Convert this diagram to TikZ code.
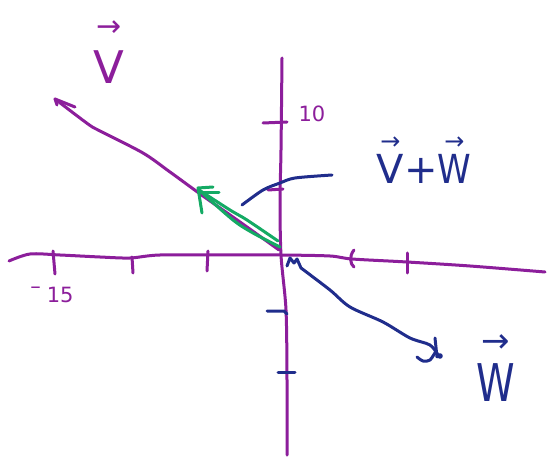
\documentclass[tikz,border=0pt]{standalone}
\usepackage{fontspec}
\setmainfont{DejaVu Sans}
\definecolor{pur}{RGB}{140,30,155}
\definecolor{nav}{RGB}{32,45,140}
\definecolor{grn}{RGB}{20,170,100}
\begin{document}
\begin{tikzpicture}[x=1pt,y=-1pt,
  pen/.style={line width=3pt,line cap=round,line join=round},
  pp/.style={pen,pur},
  bp/.style={pen,nav},
  gp/.style={pen,grn},
  lbl/.style={inner sep=0pt,align=center}]
\useasboundingbox[fill=white] (0,0) rectangle (549,457);
\coordinate (O) at (281,255);
% axes
\draw[pp] plot[smooth,tension=0.5] coordinates {(9,261) (30,254) (60,255) (100,257) (130,258) (160,255) (230,255) (O) (330,256) (352,259) (407,262) (470,266) (545,272)};
\draw[pp] plot[smooth] coordinates {(282,58) (281,150) (280,200) (O) (286,310) (287,380) (287,455)};
% x ticks
\draw[pp] (53,251) -- (55,274);
\draw[pp] (132,257) -- (133,273);
\draw[pp] (208,251) -- (207,271);
\draw[pp] (354,250) .. controls (349,256) and (350,264) .. (354,267);
\draw[pp] (407,253) -- (407,273);
% y ticks
\draw[pp] (263,123) -- (287,122);
\draw[pp] (268,190) -- (283,189);
\draw[bp] (267,311) -- (284,311) -- (287,314);
\draw[bp] (278,372) -- (295,372);
% tick labels
\node[lbl,pur,font=\fontsize{21}{21}\selectfont] (ten) at (312,114) {10};
\node[lbl,pur,font=\fontsize{21}{21}\selectfont] (m15) at (52,295) {\raisebox{9pt}{–}\hspace{6pt}15};
% vector V
\coordinate (vt) at (55,99);
\draw[pp] plot[smooth] coordinates {(279,250) (240,222) (203,196) (170,172) (143,153) (100,131) (88,124) (vt)};
\draw[pp] (75,107) -- (vt) -- (57,105);
% green sum vector
\coordinate (gt) at (199,190);
\draw[gp] plot[smooth] coordinates {(gt) (230,210) (247,220) (278,241)};
\draw[gp] plot[smooth] coordinates {(gt) (233,220) (253,233) (280,247)};
\draw[gp] (213,187) -- (198,188) -- (202,213);
\draw[gp] (200,193) -- (219,193);
% vector W
\coordinate (wt) at (438,355);
\draw[bp] (287,266) -- (290,258) -- (294,263) -- (297,259) -- (301,268);
\draw[bp] plot[smooth] coordinates {(301,268) (330,290) (350,307) (383,322) (410,338) (430,345) (wt)};
\draw[bp] plot[smooth] coordinates {(417,357) (423,361) (430,360) (436,351)};
\draw[bp] (435,338) -- (437,357);
\fill[nav] (440,356) circle (2.8pt);
% pointer curve
\draw[bp] plot[smooth] coordinates {(242,205) (263,190) (280,183) (295,178) (332,175)};
% labels
\node[lbl,pur] (V) at (109,52) {\shortstack{{\fontsize{30}{30}\selectfont →}\\[12pt]{\fontsize{45}{45}\selectfont V}}};
\node[lbl,nav] (VW) at (424,160) {\fontsize{40}{40}\selectfont\shortstack{{\fontsize{24}{24}\selectfont →}\\[2pt]V}+\shortstack{{\fontsize{24}{24}\selectfont →}\\[2pt]\scalebox{0.85}[1]{W}}};
\node[lbl,nav] (W) at (496,368) {\shortstack{{\fontsize{34}{34}\selectfont →}\\[8pt]{\fontsize{52}{52}\selectfont\scalebox{0.75}[1]{W}}}};
\end{tikzpicture}
\end{document}
